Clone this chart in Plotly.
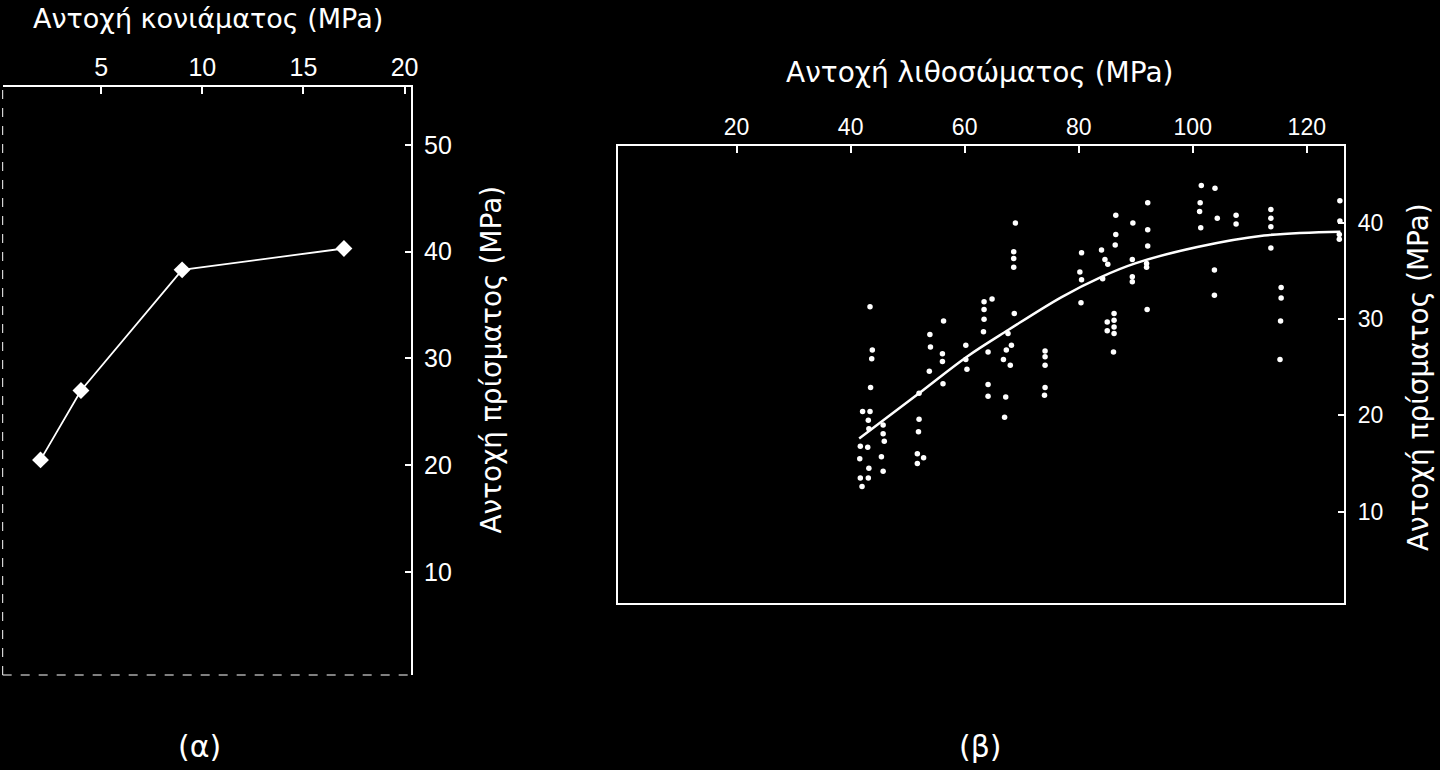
import plotly.graph_objects as go

# Panel (a): mortar strength vs prism strength
mortar_strength = [2, 4, 9, 17]
prism_strength_a = [20.5, 27.0, 38.3, 40.3]

# Panel (b): unit (brick) strength vs prism strength, scatter
unit_strength = [
    68.9, 68.6, 68.6, 68.6, 86.5, 89.5, 86.5, 86.4, 84.0, 80.5,
    84.6, 85.1, 89.4, 89.4, 89.4, 80.2, 80.5, 84.2, 80.4, 86.2,
    86.2, 86.2, 86.2, 85.0, 85.0, 86.1, 43.4, 43.8, 43.7, 43.5,
    42.1, 43.4, 43.1, 43.2, 45.7, 45.7, 45.9, 41.7, 43.0, 41.6,
    45.4, 43.2, 45.7, 41.7, 43.1, 42.0, 52.0, 52.0, 51.9, 51.7,
    52.8, 51.7, 53.9, 54.0, 56.3, 56.1, 56.1, 53.8, 56.2, 60.2,
    60.2, 60.4, 63.4, 64.8, 63.4, 63.4, 63.3, 64.1, 64.1, 64.1,
    68.7, 67.6, 68.2, 67.3, 66.8, 68.0, 67.2, 67.0, 74.1, 74.1,
    74.1, 74.1, 74.0, 101.5, 103.9, 92.1, 101.3, 101.2, 104.3, 107.6,
    107.6, 113.7, 113.7, 113.7, 125.8, 125.8, 101.4, 92.1, 92.1, 113.7,
    125.7, 125.7, 91.9, 91.9, 103.8, 103.8, 92.0, 115.5, 115.5, 115.4,
    115.3,
]
prism_strength_b = [
    40.0, 37.0, 36.3, 35.4, 40.8, 40.0, 38.8, 37.7, 37.2, 36.9,
    36.2, 35.7, 36.2, 34.4, 33.9, 34.9, 34.1, 34.2, 31.7, 30.6,
    29.9, 29.2, 28.5, 29.7, 28.8, 26.6, 31.3, 26.8, 25.9, 22.9,
    20.4, 20.4, 19.5, 18.6, 19.0, 18.1, 17.3, 16.8, 16.7, 15.5,
    15.7, 14.5, 14.2, 13.5, 13.5, 12.6, 22.3, 19.6, 18.3, 16.0,
    15.6, 15.0, 28.4, 27.1, 29.8, 26.4, 25.6, 24.6, 23.3, 27.3,
    25.8, 24.8, 31.8, 32.1, 31.0, 30.0, 28.7, 26.6, 23.2, 22.0,
    30.6, 28.5, 27.3, 26.8, 25.8, 25.2, 21.9, 19.8, 26.7, 26.1,
    25.2, 22.9, 22.1, 43.9, 43.6, 42.1, 42.1, 41.2, 40.5, 40.8,
    39.9, 41.4, 40.5, 39.6, 42.3, 40.2, 39.5, 39.3, 37.6, 37.4,
    38.8, 38.3, 35.8, 35.4, 35.1, 32.5, 31.0, 33.3, 32.2, 29.8,
    25.8,
]

# Fitted trend curve
fit_x = [41.5, 52.0, 60.4, 67.7, 77.0, 84.0, 89.9, 100.8, 112.5, 125.9]
fit_y = [17.6, 22.3, 26.1, 28.9, 32.3, 34.4, 35.8, 37.5, 38.7, 39.1]

ticks_a_x = [5, 10, 15, 20]
ticks_a_y = [10, 20, 30, 40, 50]
ticks_b_x = [20, 40, 60, 80, 100, 120]
ticks_b_y = [10, 20, 30, 40]

W, H = 1440, 770
FONT = "Liberation Sans, Arial, sans-serif"
TFONT = "DejaVu Sans, sans-serif"


def px(x):
    return x / W


def py(y):
    return (H - y) / H


fig = go.Figure()
fig.add_trace(go.Scatter(
    x=mortar_strength, y=prism_strength_a, mode="lines+markers",
    line=dict(color="white", width=1.8),
    marker=dict(symbol="diamond", size=13, color="white"),
    xaxis="x", yaxis="y", showlegend=False, hoverinfo="skip"))
fig.add_trace(go.Scatter(
    x=unit_strength, y=prism_strength_b, mode="markers",
    marker=dict(size=5.5, color="white"),
    xaxis="x2", yaxis="y2", showlegend=False, hoverinfo="skip"))
fig.add_trace(go.Scatter(
    x=fit_x, y=fit_y, mode="lines",
    line=dict(color="white", width=2.5, shape="spline", smoothing=1),
    xaxis="x2", yaxis="y2", showlegend=False, hoverinfo="skip"))

axis_common = dict(
    showgrid=False, zeroline=False, ticks="inside", ticklen=7,
    tickcolor="white", tickwidth=1.5, showline=True, linecolor="white",
    linewidth=1.5, fixedrange=True,
)

fig.update_layout(
    width=W, height=H,
    margin=dict(l=0, r=0, t=0, b=0),
    paper_bgcolor="black", plot_bgcolor="black",
    xaxis=dict(axis_common, domain=[px(2.7), px(413.3)], range=[0.13, 20.33],
               side="top", anchor="y", tickvals=ticks_a_x,
               tickfont=dict(family=FONT, size=25, color="white")),
    yaxis=dict(axis_common, domain=[py(675), py(87.3)], range=[0.35, 55.4],
               side="right", anchor="x", tickvals=ticks_a_y, ticklabelstandoff=6,
               tickfont=dict(family=FONT, size=25, color="white")),
    xaxis2=dict(axis_common, domain=[px(621), px(1351)], range=[-0.8, 126.6],
                side="top", anchor="y2", tickvals=ticks_b_x, mirror=True,
                tickfont=dict(family=FONT, size=23, color="white")),
    yaxis2=dict(axis_common, domain=[py(603), py(146)], range=[0.5, 48],
                side="right", anchor="x2", tickvals=ticks_b_y, mirror=True,
                ticklabelstandoff=7,
                tickfont=dict(family=FONT, size=23, color="white")),
    shapes=[
        dict(type="line", xref="x domain", yref="y domain", x0=0, x1=0, y0=0, y1=1,
             line=dict(color="white", width=1, dash="dash")),
        dict(type="line", xref="x domain", yref="y domain", x0=0, x1=1, y0=0, y1=0,
             line=dict(color="white", width=1, dash="dash")),
    ],
)

ann = [
    ("Αντοχή κονιάματος (MPa)", 209, 18, 0, 27),
    ("Αντοχή πρίσματος (MPa)", 493, 360, -90, 28),
    ("Αντοχή λιθοσώματος (MPa)", 985, 73, 0, 28),
    ("Αντοχή πρίσματος (MPa)", 1425, 377, -90, 28),
    ("(α)", 200, 746, 0, 30),
    ("(β)", 985, 746, 0, 30),
]
for text, ax, ay, angle, size in ann:
    fig.add_annotation(text=text, x=px(ax), y=py(ay), xref="paper", yref="paper",
                       xanchor="center", yanchor="middle", showarrow=False,
                       textangle=angle, font=dict(family=TFONT, size=size, color="white"))

fig.write_html("out.html")
